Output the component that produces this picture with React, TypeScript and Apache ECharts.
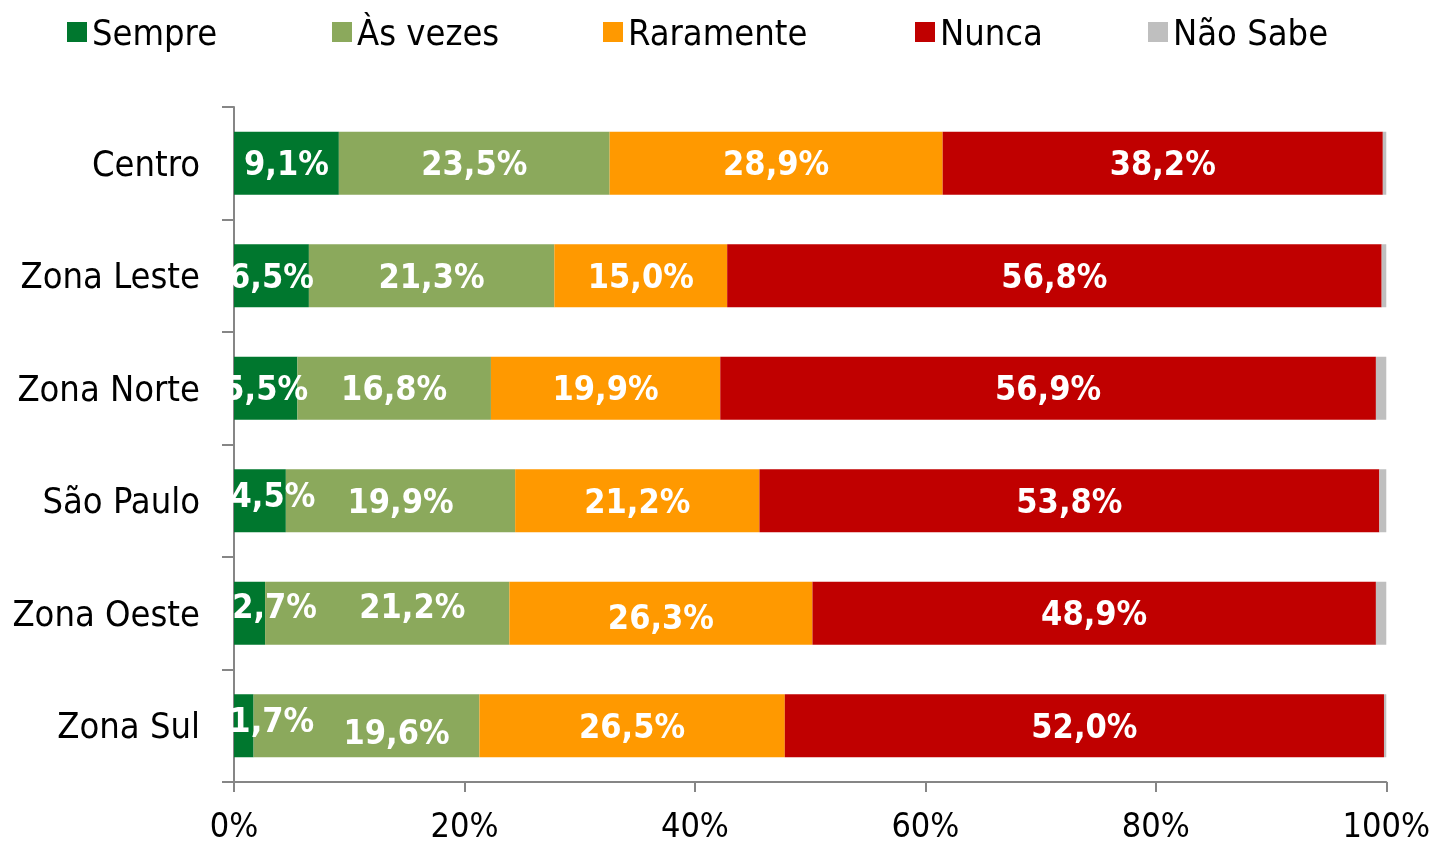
import React, { useEffect, useRef } from "react";
import * as echarts from "echarts";

const categories = ["Centro", "Zona Leste", "Zona Norte", "São Paulo", "Zona Oeste", "Zona Sul"];
const seriesNames = ["Sempre", "Às vezes", "Raramente", "Nunca", "Não Sabe"];
const sempre = [9.1, 6.5, 5.5, 4.5, 2.7, 1.7];
const asVezes = [23.5, 21.3, 16.8, 19.9, 21.2, 19.6];
const raramente = [28.9, 15.0, 19.9, 21.2, 26.3, 26.5];
const nunca = [38.2, 56.8, 56.9, 53.8, 48.9, 52.0];
const naoSabe = [0.3, 0.4, 0.9, 0.6, 0.9, 0.2];
const xTicks = [0, 20, 40, 60, 80, 100];

const colors = ["#00772E", "#8BA95C", "#FF9900", "#C00000", "#BFBFBF"];
const FONT = "'DejaVu Sans Condensed', 'DejaVu Sans', sans-serif";

// label offset tweaks [seriesIndex-categoryIndex] -> [dx, dy]
const labelTweaks: Record<string, [number, number]> = {
  "0-3": [13, -6],
  "0-4": [25, -7],
  "0-5": [28, -6],
  "1-4": [25, -7],
  "1-5": [30, 6],
  "2-4": [0, 4],
};

export default function App() {
  const ref = useRef<HTMLDivElement>(null);
  useEffect(() => {
    if (!ref.current) return;
    const chart = echarts.init(ref.current, undefined, { renderer: "svg" });
    const allData = [sempre, asVezes, raramente, nunca, naoSabe];
    const legendLefts = [62, 327, 598, 910, 1143];
    const fmt = (v: number) => v.toFixed(1).replace(".", ",") + "%";
    chart.setOption({
      animation: false,
      color: colors,
      textStyle: { fontFamily: FONT },
      legend: seriesNames.map((n, i) => ({
        data: [n],
        left: legendLefts[i],
        top: 9,
        icon: "rect",
        itemWidth: 20,
        itemHeight: 20,
        itemGap: 8,
        textStyle: { fontSize: 36, color: "#000", fontFamily: FONT },
      })),
      grid: { left: 234, right: 45, top: 107, bottom: 63, containLabel: false },
      xAxis: {
        type: "value",
        min: 0,
        max: 100,
        interval: 20,
        axisLine: { show: true, lineStyle: { color: "#868686", width: 2 } },
        axisTick: { show: true, length: 10, lineStyle: { color: "#868686", width: 2 } },
        splitLine: { show: false },
        axisLabel: {
          formatter: (v: number) => (xTicks.includes(v) ? v + "%" : ""),
          fontSize: 34,
          color: "#000",
          margin: 26,
          fontFamily: FONT,
        },
      },
      yAxis: {
        type: "category",
        data: categories,
        inverse: true,
        axisLine: { show: true, lineStyle: { color: "#868686", width: 2 } },
        axisTick: { show: true, length: 12, alignWithLabel: false, lineStyle: { color: "#868686", width: 2 } },
        axisLabel: { fontSize: 36, color: "#000", margin: 34, fontFamily: FONT },
      },
      series: seriesNames.map((n, si) => ({
        name: n,
        type: "bar",
        stack: "total",
        barWidth: 63,
        itemStyle: { color: colors[si] },
        data: allData[si].map((v, ci) => {
          const t = labelTweaks[`${si}-${ci}`];
          const item: any = { value: v };
          if (t) item.label = { offset: t };
          return item;
        }),
        label: {
          show: si < 4,
          position: "inside",
          color: "#fff",
          fontWeight: "bold",
          fontSize: 34,
          fontFamily: FONT,
          formatter: (p: any) => fmt(p.value),
        },
      })),
    });
    return () => chart.dispose();
  }, []);
  return <div ref={ref} style={{ position: "fixed", left: 0, top: 0, width: 1433, height: 845 }} />;
}
